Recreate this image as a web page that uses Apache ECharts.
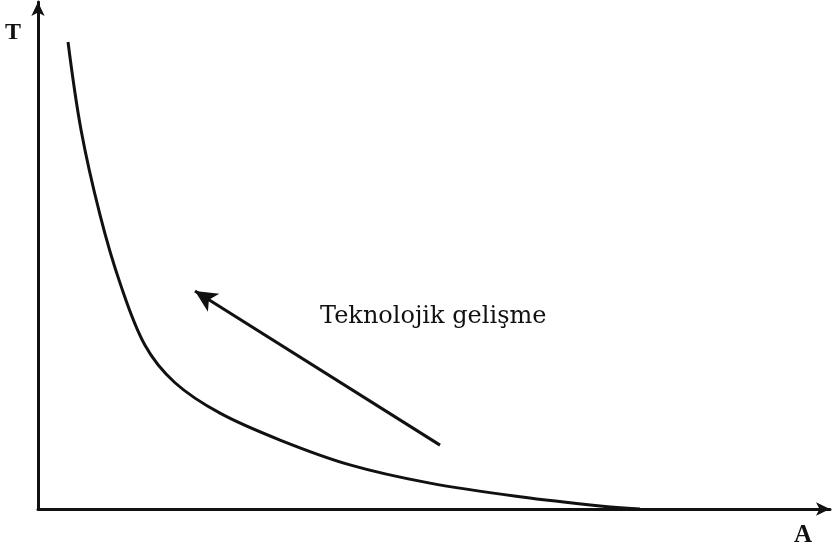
<!DOCTYPE html>
<html><head><meta charset="utf-8">
<script src="https://cdn.jsdelivr.net/npm/echarts@6/dist/echarts.min.js"></script>
<style>html,body{margin:0;padding:0;background:#fff}#c{width:836px;height:548px}</style>
</head><body><div id="c"></div>
<script>
// Curve: T (vertical) against A (horizontal), arbitrary units 0-100
const curveA = [3.79, 5.43, 7.83, 10.35, 13.51, 17.30, 22.98, 30.56, 39.39, 49.49, 60.86, 70.96, 76.01];
const curveT = [92.1, 74.8, 58.0, 44.6, 32.3, 24.9, 18.9, 13.6, 8.7, 5.1, 2.4, 0.6, 0.0];
// Arrow "Teknolojik gelişme": from -> to
const arrowFrom = [50.76, 12.6];
const arrowTo = [19.82, 43.0];
const arrowLabel = 'Teknolojik gelişme';
const axisNameX = 'A';
const axisNameY = 'T';

const chart = echarts.init(document.getElementById('c'), null, {renderer: 'canvas'});
const black = '#111';
chart.setOption({
  animation: false,
  backgroundColor: '#fff',
  grid: {left: 38, right: 6, top: 2, bottom: 39},
  xAxis: {
    type: 'value', min: 0, max: 100,
    axisLine: {show: true, symbol: ['none', 'arrow'], symbolSize: [10, 14], lineStyle: {color: black, width: 3}},
    axisTick: {show: false}, axisLabel: {show: false}, splitLine: {show: false}
  },
  yAxis: {
    type: 'value', min: 0, max: 100,
    axisLine: {show: true, symbol: ['none', 'arrow'], symbolSize: [10, 14], lineStyle: {color: black, width: 3}},
    axisTick: {show: false}, axisLabel: {show: false}, splitLine: {show: false}
  },
  graphic: [
    {type: 'text', left: 5, top: 21, style: {text: axisNameY, font: 'bold 24px "Liberation Serif", serif', fill: black}},
    {type: 'text', left: 794, top: 523, style: {text: axisNameX, font: 'bold 25px "Liberation Serif", serif', fill: black}},
    {type: 'text', left: 320, top: 305, style: {text: arrowLabel, font: '24px "DejaVu Serif", serif', fill: black}}
  ],
  series: [
    {
      type: 'line', smooth: 0.35, symbol: 'none',
      lineStyle: {color: black, width: 3},
      data: curveA.map((a, i) => [a, curveT[i]]),
      markLine: {
        silent: true, animation: false,
        symbol: ['none', 'arrow'], symbolSize: [16, 22],
        lineStyle: {color: black, width: 3, type: 'solid'},
        label: {show: false},
        data: [[{coord: arrowFrom}, {coord: arrowTo}]]
      }
    }
  ]
});
</script></body></html>
